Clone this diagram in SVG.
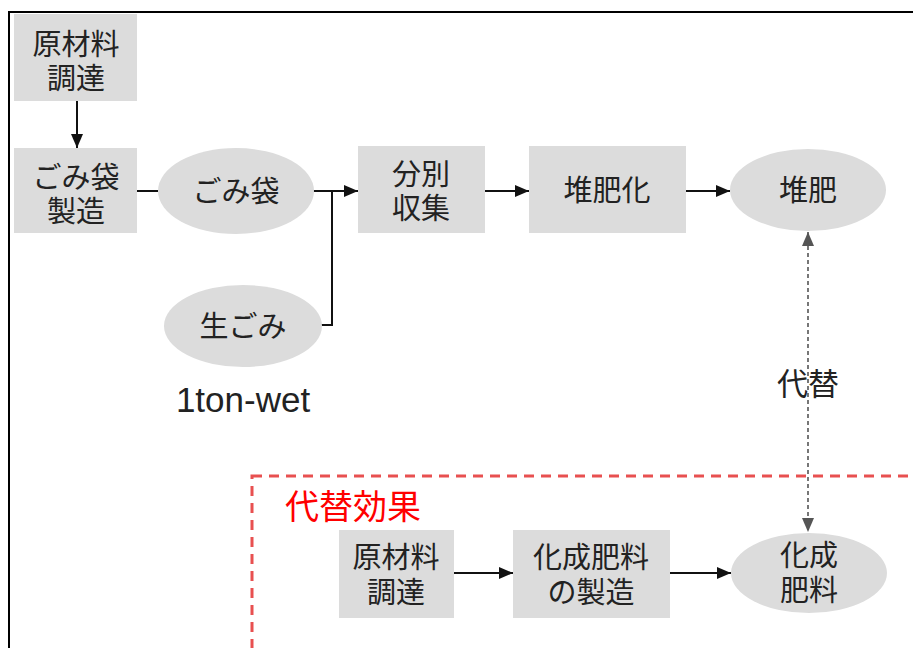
<svg xmlns="http://www.w3.org/2000/svg" width="913" height="648" viewBox="0 0 913 648">
<style>
.box{fill:#dcdcdc}
.t{font-family:"Noto Sans CJK JP","Noto Sans CJK SC",sans-serif;font-size:29px;fill:#222;text-anchor:middle}
.ln{stroke:#111;stroke-width:2;fill:none}
.dl{stroke:#555;stroke-width:1.6;fill:none;stroke-dasharray:4 3}
</style>
<defs>
<marker id="ah" markerWidth="14" markerHeight="12" refX="14" refY="6" orient="auto" markerUnits="userSpaceOnUse"><path d="M0,0 L14,6 L0,12 Z" fill="#111"/></marker>
<marker id="ag" markerWidth="14" markerHeight="12" refX="14" refY="6" orient="auto" markerUnits="userSpaceOnUse"><path d="M0,0 L14,6 L0,12 Z" fill="#555"/></marker>
<marker id="ags" markerWidth="14" markerHeight="12" refX="0" refY="6" orient="auto" markerUnits="userSpaceOnUse"><path d="M14,0 L0,6 L14,12 Z" fill="#555"/></marker>
</defs>
<rect x="9" y="12" width="1000" height="1000" fill="none" stroke="#000" stroke-width="2"/>
<rect x="252" y="476" width="800" height="400" fill="none" stroke="#e85050" stroke-width="3" stroke-dasharray="10 7"/>
<text x="353" y="519" style="font-family:'Noto Sans CJK JP',sans-serif;font-size:34px;fill:#ff0000;text-anchor:middle">代替効果</text>
<g id="connectors">
<line class="ln" x1="77" y1="101" x2="77" y2="148" marker-end="url(#ah)"/>
<line class="ln" x1="137" y1="191" x2="158" y2="191"/>
<line class="ln" x1="313" y1="191" x2="358" y2="191" marker-end="url(#ah)"/>
<polyline class="ln" points="321,325 332,325 332,191"/>
<line class="ln" x1="485" y1="191" x2="529" y2="191" marker-end="url(#ah)"/>
<line class="ln" x1="686" y1="191" x2="730" y2="191" marker-end="url(#ah)"/>
<line class="dl" x1="808" y1="232" x2="808" y2="532" marker-start="url(#ags)" marker-end="url(#ag)"/>
<line class="ln" x1="454" y1="573" x2="513" y2="573" marker-end="url(#ah)"/>
<line class="ln" x1="670" y1="573" x2="731" y2="573" marker-end="url(#ah)"/>
</g>
<text class="t" x="808" y="395" style="font-size:31px">代替</text>
<g id="n1"><rect class="box" x="14" y="14" width="123" height="87"/><text class="t" x="76" y="55">原材料<tspan x="76" dy="34">調達</tspan></text></g>
<g id="n2"><rect class="box" x="14" y="148" width="123" height="85"/><text class="t" x="76" y="188">ごみ袋<tspan x="76" dy="34">製造</tspan></text></g>
<g id="n3"><ellipse class="box" cx="236" cy="191" rx="78" ry="43"/><text class="t" x="236" y="202">ごみ袋</text></g>
<g id="n4"><ellipse class="box" cx="243" cy="326" rx="79" ry="41"/><text class="t" x="243" y="337">生ごみ</text><text x="243" y="412" style="font-family:'Liberation Sans',Arial,sans-serif;font-size:35px;fill:#222;text-anchor:middle">1ton-wet</text></g>
<g id="n5"><rect class="box" x="358" y="146" width="127" height="87"/><text class="t" x="421" y="185">分別<tspan x="421" dy="34">収集</tspan></text></g>
<g id="n6"><rect class="box" x="529" y="146" width="157" height="87"/><text class="t" x="607" y="201">堆肥化</text></g>
<g id="n7"><ellipse class="box" cx="808" cy="190" rx="78" ry="41"/><text class="t" x="808" y="201">堆肥</text></g>
<g id="n8"><rect class="box" x="339" y="530" width="115" height="88"/><text class="t" x="396" y="568">原材料<tspan x="396" dy="35">調達</tspan></text></g>
<g id="n9"><rect class="box" x="513" y="530" width="157" height="88"/><text class="t" x="591" y="568">化成肥料<tspan x="591" dy="35">の製造</tspan></text></g>
<g id="n10"><ellipse class="box" cx="809" cy="573" rx="78" ry="40"/><text class="t" x="809" y="566">化成<tspan x="809" dy="35">肥料</tspan></text></g>
</svg>
